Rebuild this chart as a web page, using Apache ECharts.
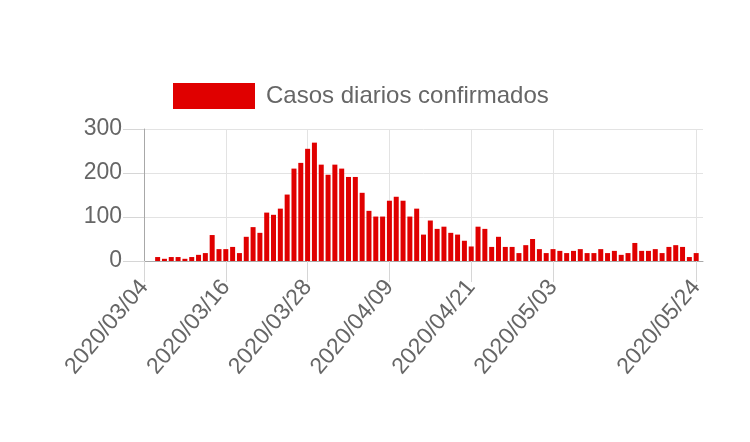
<!DOCTYPE html>
<html>
<head>
<meta charset="utf-8">
<script src="https://cdn.jsdelivr.net/npm/echarts@6/dist/echarts.min.js"></script>
<style>
html,body{margin:0;padding:0;background:#ffffff;}
#chart{width:750px;height:442px;}
</style>
</head>
<body>
<div id="chart"></div>
<script>
const seriesName = 'Casos diarios confirmados';

const categories = [
  '2020/03/04','2020/03/05','2020/03/06','2020/03/07','2020/03/08','2020/03/09','2020/03/10','2020/03/11',
  '2020/03/12','2020/03/13','2020/03/14','2020/03/15','2020/03/16','2020/03/17','2020/03/18','2020/03/19',
  '2020/03/20','2020/03/21','2020/03/22','2020/03/23','2020/03/24','2020/03/25','2020/03/26','2020/03/27',
  '2020/03/28','2020/03/29','2020/03/30','2020/03/31','2020/04/01','2020/04/02','2020/04/03','2020/04/04',
  '2020/04/05','2020/04/06','2020/04/07','2020/04/08','2020/04/09','2020/04/10','2020/04/11','2020/04/12',
  '2020/04/13','2020/04/14','2020/04/15','2020/04/16','2020/04/17','2020/04/18','2020/04/19','2020/04/20',
  '2020/04/21','2020/04/22','2020/04/23','2020/04/24','2020/04/25','2020/04/26','2020/04/27','2020/04/28',
  '2020/04/29','2020/04/30','2020/05/01','2020/05/02','2020/05/03','2020/05/04','2020/05/05','2020/05/06',
  '2020/05/07','2020/05/08','2020/05/09','2020/05/10','2020/05/11','2020/05/12','2020/05/13','2020/05/14',
  '2020/05/15','2020/05/16','2020/05/17','2020/05/18','2020/05/19','2020/05/20','2020/05/21','2020/05/22',
  '2020/05/23','2020/05/24','2020/05/25'
];

const dailyCases = [
  0, 0, 9, 5, 9, 9, 5, 9,
  14, 18, 59, 27, 27, 32, 18, 55,
  77, 64, 110, 105, 119, 151, 210, 223,
  255, 269, 219, 196, 219, 210, 191, 191,
  155, 114, 101, 101, 137, 146, 137, 101,
  119, 60, 92, 73, 78, 64, 60, 46,
  33, 78, 73, 32, 55, 32, 32, 18,
  36, 50, 27, 18, 27, 23, 18, 23,
  27, 18, 18, 27, 18, 23, 14, 18,
  41, 23, 23, 27, 18, 32, 36, 32,
  9, 18
];

const tickLabels = ['2020/03/04','2020/03/16','2020/03/28','2020/04/09','2020/04/21','2020/05/03','2020/05/24'];

const yMin = 0, yMax = 300, yStep = 100;

const FONT = "'Liberation Sans', Arial, Helvetica, sans-serif";
const TEXT = '#666666';
const GRID = '#e3e3e3';
const AXIS = '#a8a8a8';
const RED = '#e00000';

const isTick = (i) => tickLabels.indexOf(categories[i]) !== -1;

const chart = echarts.init(document.getElementById('chart'), null, {renderer: 'canvas'});
chart.setOption({
  animation: false,
  backgroundColor: '#ffffff',
  textStyle: {fontFamily: FONT},
  legend: {
    data: [seriesName],
    left: 173,
    top: 83,
    padding: 0,
    icon: 'rect',
    itemWidth: 82,
    itemHeight: 26,
    textStyle: {fontFamily: FONT, fontSize: 24, color: TEXT, padding: [6, 0, 0, 6]},
    selectedMode: false
  },
  grid: {left: 144, right: 47, top: 129, bottom: 181, containLabel: false},
  xAxis: {
    type: 'category',
    data: categories,
    boundaryGap: false,
    axisLine: {show: true, lineStyle: {color: AXIS, width: 1}},
    axisTick: {show: true, length: 21, interval: (i) => isTick(i), lineStyle: {color: '#d6d6d6'}},
    splitLine: {show: true, interval: (i) => isTick(i), lineStyle: {color: GRID, width: 1}},
    axisLabel: {
      show: true,
      interval: (i) => isTick(i),
      rotate: 50,
      margin: 22,
      padding: [27, 0, 0, 0],
      fontFamily: FONT,
      fontSize: 23,
      color: TEXT
    }
  },
  yAxis: {
    type: 'value',
    min: yMin,
    max: yMax,
    interval: yStep,
    axisLine: {show: true, lineStyle: {color: AXIS, width: 1}},
    axisTick: {show: true, length: 21, lineStyle: {color: '#d6d6d6'}},
    splitLine: {show: true, lineStyle: {color: GRID, width: 1}},
    axisLabel: {margin: 22, fontFamily: FONT, fontSize: 23, color: TEXT}
  },
  series: [{
    name: seriesName,
    type: 'bar',
    data: dailyCases,
    barWidth: 5,
    itemStyle: {color: RED},
    clip: false
  }]
});
</script>
</body>
</html>
